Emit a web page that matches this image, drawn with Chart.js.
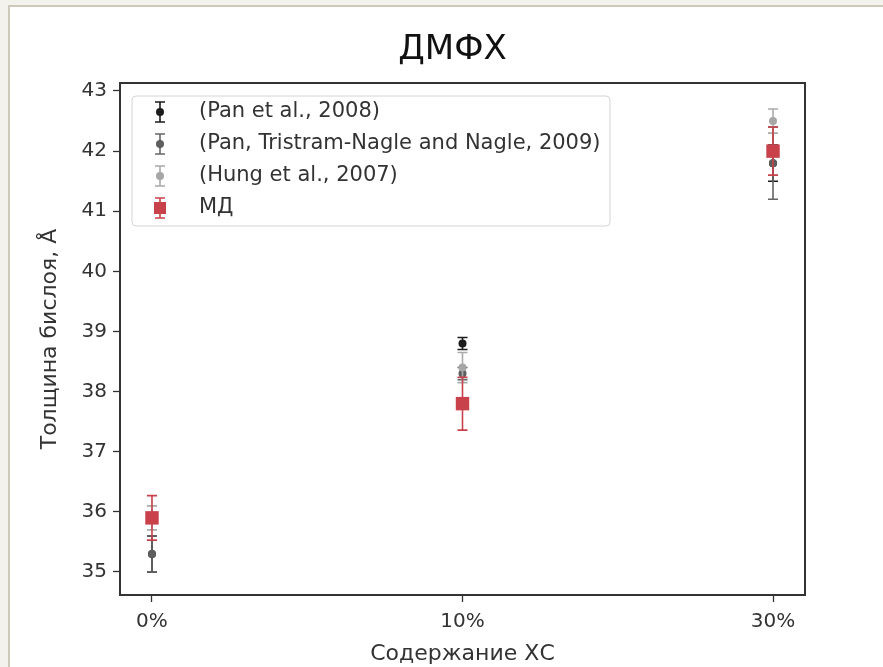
<!DOCTYPE html>
<html>
<head>
<meta charset="utf-8">
<script src="https://cdn.jsdelivr.net/npm/chart.js@4.4.0/dist/chart.umd.min.js"></script>
<style>
  html, body { margin: 0; padding: 0; background: #f4f2ed; }
  #frame { position: absolute; left: 8px; top: 5px; width: 900px; height: 700px; background: #fff; border: 2px solid #cfc9bc; }
  #wrap { position: absolute; left: 0; top: 0; width: 883px; height: 667px; }
</style>
</head>
<body>
<div id="frame"></div>
<div id="wrap"><canvas id="chart" width="883" height="667"></canvas></div>
<script>
// данные
const categories = ['0%', '10%', '30%'];
const yTicks = [35, 36, 37, 38, 39, 40, 41, 42, 43];

const pan2008 = [35.3, 38.8, 41.8];
const pan2008Err = [0.3, 0.1, 0.3];
const pan2009 = [35.3, 38.3, 41.8];
const pan2009Err = [0.3, 0.1, 0.6];
const hung2007 = [35.9, 38.4, 42.5];
const hung2007Err = [0.2, 0.25, 0.2];
const md = [35.9, 37.8, 42.0];
const mdErr = [0.37, 0.44, 0.4];

function points(vals, errs) {
    return vals.map((v, i) => ({ x: i, y: v, err: errs[i] }));
}

const FONT = 'DejaVu Sans';
Chart.defaults.font.family = FONT;

// планки погрешностей рисуем перед точками каждого набора
const errorBars = {
    id: 'errorBars',
    beforeDatasetDraw(chart, args) {
        const ds = chart.data.datasets[args.index];
        const xs = chart.scales.x, ys = chart.scales.y;
        const ctx = chart.ctx;
        ctx.save();
        ctx.strokeStyle = ds.barColor;
        ctx.lineWidth = 1.6;
        ds.data.forEach(p => {
            const px = xs.getPixelForValue(p.x);
            const top = ys.getPixelForValue(p.y + p.err);
            const bot = ys.getPixelForValue(p.y - p.err);
            ctx.beginPath();
            ctx.moveTo(px, top); ctx.lineTo(px, bot);
            ctx.moveTo(px - 5, top); ctx.lineTo(px + 5, top);
            ctx.moveTo(px - 5, bot); ctx.lineTo(px + 5, bot);
            ctx.stroke();
        });
        ctx.restore();
    }
};

// заголовок, рамка графика и легенда внутри области построения
const boxAndLegend = {
    id: 'boxAndLegend',
    afterDraw(chart) {
        const ctx = chart.ctx;
        const a = chart.chartArea;
        ctx.save();
        ctx.fillStyle = '#111';
        ctx.font = '34px "' + FONT + '"';
        ctx.textAlign = 'center';
        ctx.textBaseline = 'alphabetic';
        ctx.fillText('ДМФХ', (a.left + a.right) / 2 - 10, 59);

        ctx.strokeStyle = '#333';
        ctx.lineWidth = 2;
        ctx.strokeRect(a.left, a.top, a.right - a.left, a.bottom - a.top);

        // легенда
        const lx = 132, ly = 96, lw = 478, lh = 130;
        ctx.fillStyle = 'rgba(255,255,255,0.85)';
        ctx.strokeStyle = '#d4d4d4';
        ctx.lineWidth = 1;
        ctx.beginPath();
        ctx.roundRect(lx, ly, lw, lh, 4);
        ctx.fill();
        ctx.stroke();

        chart.data.datasets.forEach((ds, i) => {
            const cy = 112 + i * 32;
            const cx = 160;
            ctx.strokeStyle = ds.barColor;
            ctx.lineWidth = 1.6;
            ctx.beginPath();
            ctx.moveTo(cx, cy - 10); ctx.lineTo(cx, cy + 10);
            ctx.moveTo(cx - 5, cy - 10); ctx.lineTo(cx + 5, cy - 10);
            ctx.moveTo(cx - 5, cy + 10); ctx.lineTo(cx + 5, cy + 10);
            ctx.stroke();
            ctx.fillStyle = ds.pointBackgroundColor;
            if (ds.pointStyle === 'rect') {
                ctx.fillRect(cx - 6, cy - 6, 12, 12);
            } else {
                ctx.beginPath();
                ctx.arc(cx, cy, 4, 0, Math.PI * 2);
                ctx.fill();
            }
            ctx.fillStyle = '#333';
            ctx.font = '21px "' + FONT + '"';
            ctx.textBaseline = 'middle';
            ctx.textAlign = 'left';
            ctx.fillText(ds.label, 199, cy);
        });
        ctx.restore();
    }
};

new Chart(document.getElementById('chart'), {
    type: 'scatter',
    data: {
        datasets: [
            { label: '(Pan et al., 2008)', data: points(pan2008, pan2008Err), order: 4,
              barColor: '#1c1c1c', pointBackgroundColor: '#1c1c1c', pointBorderWidth: 0, pointRadius: 4 },
            { label: '(Pan, Tristram-Nagle and Nagle, 2009)', data: points(pan2009, pan2009Err), order: 3,
              barColor: '#646464', pointBackgroundColor: '#5e5e5e', pointBorderWidth: 0, pointRadius: 4 },
            { label: '(Hung et al., 2007)', data: points(hung2007, hung2007Err), order: 2,
              barColor: '#ababab', pointBackgroundColor: '#a6a6a6', pointBorderWidth: 0, pointRadius: 4 },
            { label: 'МД', data: points(md, mdErr), order: 1, pointStyle: 'rect',
              barColor: '#c8414b', pointBackgroundColor: '#c8414b', pointBorderWidth: 0, pointRadius: 9.5 }
        ]
    },
    options: {
        responsive: false,
        animation: false,
        devicePixelRatio: 1,
        layout: { padding: { top: 83, right: 78, left: 0, bottom: 0 } },
        plugins: {
            legend: { display: false },
            tooltip: { enabled: false },
            title: { display: false }
        },
        scales: {
            x: {
                type: 'linear', min: -0.103, max: 2.103,
                afterBuildTicks: s => { s.ticks = categories.map((c, i) => ({ value: i })); },
                afterFit: s => { s.height = 72; },
                grid: { display: true, drawOnChartArea: false, drawTicks: true, tickLength: 7, tickWidth: 1.3, color: '#333' },
                border: { display: false },
                ticks: { callback: (v, i) => categories[i], color: '#333', font: { size: 20 }, padding: 8, maxRotation: 0 },
                title: { display: true, text: 'Содержание ХС', color: '#333', font: { size: 22 }, padding: { top: 2, bottom: 0 } }
            },
            y: {
                type: 'linear', min: 34.617, max: 43.133,
                afterBuildTicks: s => { s.ticks = yTicks.map(v => ({ value: v })); },
                afterFit: s => { s.width = 120; },
                grid: { display: true, drawOnChartArea: false, drawTicks: true, tickLength: 7, tickWidth: 1.3, color: '#333' },
                border: { display: false },
                ticks: { color: '#333', font: { size: 20 }, padding: 6 },
                title: { display: true, text: 'Толщина бислоя, Å', color: '#333', font: { size: 22 }, padding: { top: 37, bottom: 0 } }
            }
        }
    },
    plugins: [errorBars, boxAndLegend]
});
</script>
</body>
</html>
